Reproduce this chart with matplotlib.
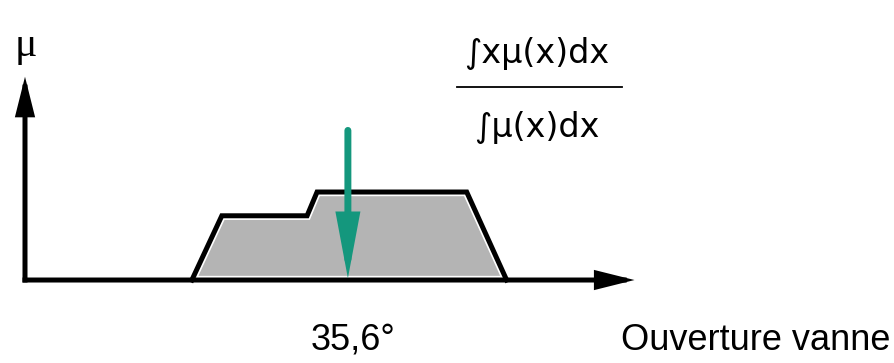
import matplotlib
matplotlib.use("Agg")
import matplotlib.pyplot as plt

# membership function (aggregated output), x in degrees, mu in [0, 1]
shape_x = [18.4, 21.7, 31.1, 32.2, 48.7, 53.1]
shape_mu = [0.0, 0.73, 0.73, 1.0, 1.0, 0.0]

centroid = 35.6
centroid_label = "35,6°"
x_label = "Ouverture vanne"
y_label = "μ"
formula_num = "∫xμ(x)dx"
formula_den = "∫μ(x)dx"

# axis extents
x_axis_end = 67.2
y_axis_end = 2.31
arrow_start = 1.70

fig = plt.figure(figsize=(8.94, 3.63), dpi=100)
ax = fig.add_axes([0, 0, 1, 1])
ax.set_xlim(-2.756, 95.81)
ax.set_ylim(-0.943, 3.182)
ax.axis("off")

# gray area, white rim inside the black outline
ax.fill(shape_x, shape_mu, facecolor="#b4b4b4", edgecolor="white", lw=6,
        joinstyle="miter", zorder=1)
ax.plot(shape_x, shape_mu, color="black", lw=3.6, solid_joinstyle="miter",
        zorder=2)

# axes with arrows
axis_props = dict(arrowstyle="-|>,head_length=20,head_width=5", lw=3.6,
                  color="black", shrinkA=0, shrinkB=0, mutation_scale=1,
                  joinstyle="miter", capstyle="projecting")
ax.annotate("", xy=(x_axis_end, 0), xytext=(0, 0), arrowprops=axis_props,
            zorder=3)
ax.annotate("", xy=(0, y_axis_end), xytext=(0, 0), arrowprops=axis_props,
            zorder=3)

# centroid arrow
ax.annotate("", xy=(centroid, 0.02), xytext=(centroid, arrow_start),
            arrowprops=dict(arrowstyle="-|>,head_length=32,head_width=6",
                            lw=5, color="#14977d", shrinkA=0, shrinkB=0,
                            mutation_scale=1, joinstyle="miter"),
            zorder=4)

# texts
ax.text(26 / 894, 1 - 46 / 363, y_label, transform=ax.transAxes,
        ha="center", va="center", fontsize=30, family="Liberation Serif")
ax.text(353 / 894, 1 - 350 / 363, centroid_label, transform=ax.transAxes,
        ha="center", va="baseline", fontsize=26, family="Liberation Sans")
ax.text(890 / 894, 1 - 350 / 363, x_label, transform=ax.transAxes,
        ha="right", va="baseline", fontsize=26, family="Liberation Sans")

# defuzzification formula
ax.text(537 / 894, 1 - 53 / 363, formula_num, transform=ax.transAxes,
        ha="center", va="center", fontsize=24, family="DejaVu Sans")
ax.text(537 / 894, 1 - 127 / 363, formula_den, transform=ax.transAxes,
        ha="center", va="center", fontsize=24, family="DejaVu Sans")
ax.plot([457 / 894, 622 / 894], [1 - 87 / 363, 1 - 87 / 363],
        transform=ax.transAxes, color="black", lw=1.3)

fig.savefig("out.png", dpi=100)
